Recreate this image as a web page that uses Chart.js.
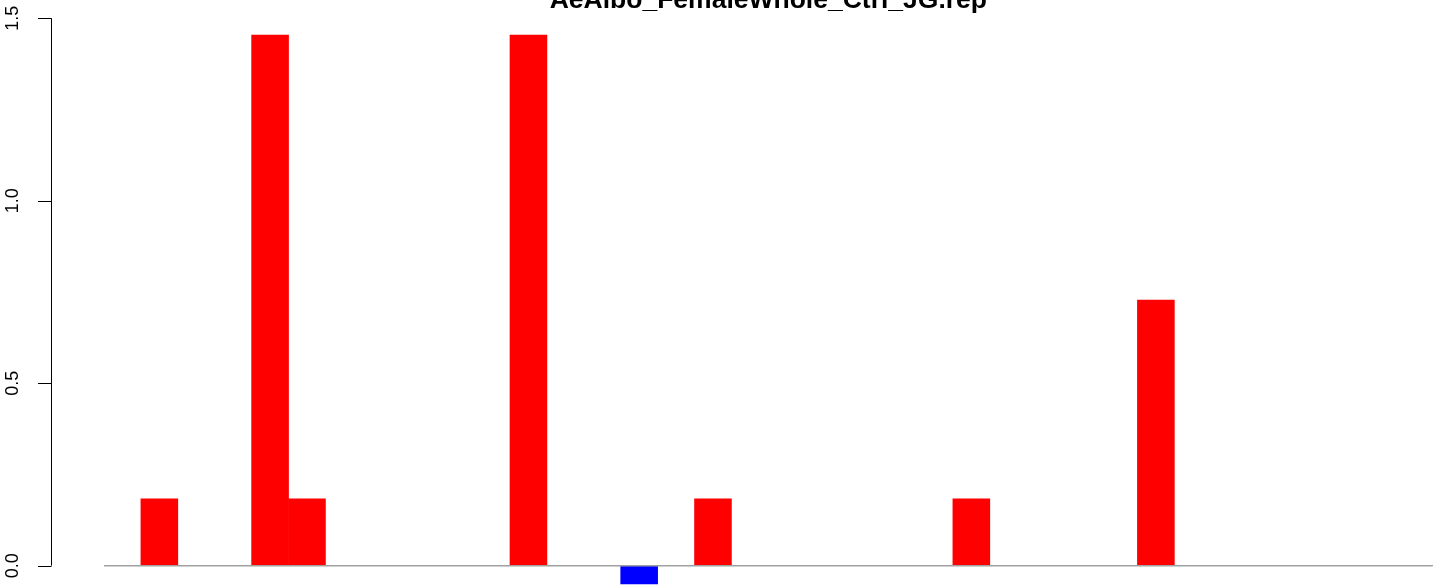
<!DOCTYPE html>
<html>
<head>
<meta charset="utf-8">
<script src="https://cdn.jsdelivr.net/npm/chart.js@4.4.1/dist/chart.umd.min.js"></script>
<style>
  body { margin: 0; background: #fff; }
  canvas { display: block; }
</style>
</head>
<body>
<canvas id="barChart" width="1444" height="585"></canvas>
<script>
const chartTitle = "AeAlbo_FemaleWhole_Ctrl_JG.rep";

// one slot per position, 36 in all
const positions = Array.from({ length: 36 }, (_, i) => String(i + 1));
const values = [
  0, 0.183, 0, 0, 1.454, 0.183, 0, 0, 0, 0,
  0, 1.454, 0, 0, -0.05, 0, 0.183, 0, 0, 0,
  0, 0, 0, 0.183, 0, 0, 0, 0, 0.728, 0,
  0, 0, 0, 0, 0, 0,
];
const yTicks = [0.0, 0.5, 1.0, 1.5];

const barColors = values.map((v) => (v < 0 ? "#0000ff" : "#ff0000"));

// R-style axis, baseline and title drawn on the canvas
const baseStyle = {
  id: "baseStyle",
  afterDatasetsDraw(chart) {
    const c = chart.ctx;
    const y = chart.scales.y;
    const area = chart.chartArea;
    c.save();

    // baseline at zero
    c.strokeStyle = "#a0a0a0";
    c.lineWidth = 1.5;
    c.beginPath();
    c.moveTo(area.left, y.getPixelForValue(0));
    c.lineTo(area.right, y.getPixelForValue(0));
    c.stroke();

    // left axis
    const ax = 51;
    c.strokeStyle = "#000";
    c.lineWidth = 1;
    c.beginPath();
    c.moveTo(ax + 0.5, y.getPixelForValue(yTicks[0]));
    c.lineTo(ax + 0.5, y.getPixelForValue(yTicks[yTicks.length - 1]));
    yTicks.forEach((t) => {
      const py = Math.round(y.getPixelForValue(t)) + 0.5;
      c.moveTo(ax + 0.5, py);
      c.lineTo(ax - 13, py);
    });
    c.stroke();

    c.fillStyle = "#000";
    c.font = '18px "Liberation Sans", Arial, sans-serif';
    c.textAlign = "center";
    c.textBaseline = "middle";
    yTicks.forEach((t) => {
      c.save();
      c.translate(13, y.getPixelForValue(t));
      c.rotate(-Math.PI / 2);
      c.fillText(t.toFixed(1), 0, 0);
      c.restore();
    });

    // title (partly above the top edge, as in the original)
    c.font = 'bold 26.5px "Liberation Sans", Arial, sans-serif';
    c.textBaseline = "alphabetic";
    c.fillText(chartTitle, (area.left + area.right) / 2, 8);
    c.restore();
  },
};

new Chart(document.getElementById("barChart"), {
  type: "bar",
  data: {
    labels: positions,
    datasets: [
      {
        data: values,
        backgroundColor: barColors,
        borderWidth: 0,
        barPercentage: 1,
        categoryPercentage: 1,
      },
    ],
  },
  options: {
    responsive: false,
    animation: false,
    layout: { padding: { left: 104, right: 11.3, top: 18.3, bottom: 0 } },
    plugins: {
      legend: { display: false },
      tooltip: { enabled: false },
      title: { display: false },
    },
    scales: {
      x: { display: false, offset: true, grid: { display: false } },
      y: { display: false, min: -0.053, max: 1.5 },
    },
  },
  plugins: [baseStyle],
});
</script>
</body>
</html>
